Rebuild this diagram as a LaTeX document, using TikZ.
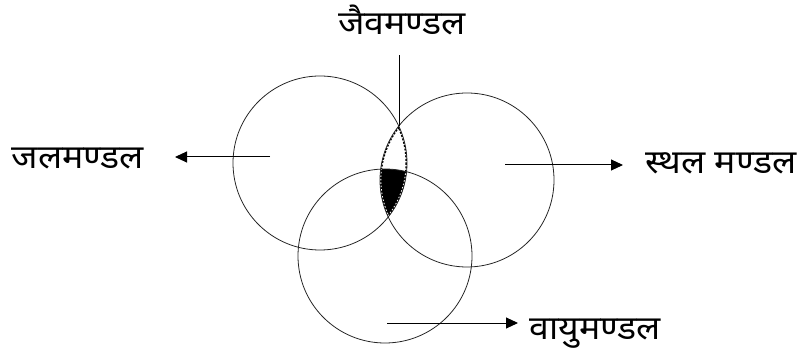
\documentclass[tikz,border=0pt]{standalone}
\usepackage{fontspec}
\newfontfamily\deva[Script=Devanagari,FakeStretch=1.08]{Noto Sans}
\usepackage{tikz}
\usetikzlibrary{arrows.meta}

\begin{document}
\begin{tikzpicture}[x=1pt,y=-1pt,line width=0.8pt,
  every node/.style={font=\deva\fontsize{33pt}{36pt}\selectfont,inner sep=0pt},
  sphere/.style={draw=black!85},
  pointer/.style={line width=1pt,-{Triangle[length=12pt,width=11pt]}}]
  \useasboundingbox (0,0) rectangle (806,358);
  \coordinate (L) at (320,163);
  \coordinate (R) at (467,180);
  \coordinate (B) at (385,256);
  \def\rad{87}
  % overlap of the three spheres
  \begin{scope}
    \clip (L) circle (\rad); \clip (R) circle (\rad);
    \fill (B) circle (\rad);
    \draw[line width=3pt,dash pattern=on 2pt off 1.5pt] (L) circle (\rad) (R) circle (\rad);
    \clip (B) circle (\rad);
    \draw[white,line width=2.6pt,dash pattern=on 1.5pt off 2pt] (L) circle (\rad) (R) circle (\rad);
  \end{scope}
  \foreach \c in {L,R,B} \draw[sphere] (\c) circle (\rad);
  % labels
  \node (jaiv)  at (402,20)  {जैवमण्डल};
  \node (jal)   at (78,158)  {जलमण्डल};
  \node (sthal) at (721,163) {स्थल मण्डल};
  \node (vayu)  at (595,334) {वायुमण्डल};
  \coordinate (top) at (399,126);
  \coordinate (jalstart) at (270,157);
  \coordinate (sthalstart) at (505,165);
  \coordinate (vayustart) at (387,323);
  \draw[line width=1pt] (top) -- (top |- 0,55);
  \draw[pointer] (jalstart) -- (175,157);
  \draw[pointer] (sthalstart) -- (623,165);
  \draw[pointer] (vayustart) -- (518,323);
\end{tikzpicture}
\end{document}
